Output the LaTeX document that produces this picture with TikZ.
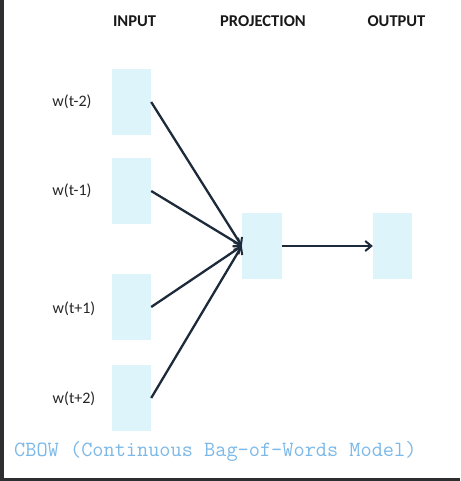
\documentclass[tikz,border=0pt]{standalone}
\usepackage{fontspec}
\setmainfont{Carlito}
\usetikzlibrary{arrows.meta}
\definecolor{boxfill}{HTML}{DDF4FB}
\definecolor{linec}{HTML}{1C2A3A}
\definecolor{captc}{HTML}{7CB9E8}
\definecolor{framec}{HTML}{2E2E30}
\begin{document}
\begin{tikzpicture}[x=1pt,y=-1pt,
  cell/.style={rectangle,fill=boxfill,draw=none,inner sep=0pt,minimum width=39pt,minimum height=66pt},
  lab/.style={font=\fontsize{16}{18}\selectfont,text=black!85,inner sep=0pt},
  head/.style={font=\fontsize{16.5}{19}\bfseries\selectfont,text=black!90,inner sep=0pt},
  arr/.style={draw=linec,line width=2.3pt,-{Straight Barb[length=6pt,width=10pt,line width=2pt]}}]
\useasboundingbox (0,0) rectangle (460,481);
\fill[white] (0,0) rectangle (460,481);
\fill[framec] (0,0) rectangle (3.5,481);
\fill[framec] (0,478) rectangle (460,481);
% headers
\node[head] (hin) at (134.5,21) {INPUT};
\node[head] (hproj) at (263,21) {PROJECTION};
\node[head] (hout) at (396.5,21) {OUTPUT};
% boxes
\node[cell] (i1) at (131.5,102) {};
\node[cell] (i2) at (131.5,191) {};
\node[cell] (i3) at (131.5,307) {};
\node[cell] (i4) at (131.5,398) {};
\node[cell,minimum width=40pt] (p) at (262,246) {};
\node[cell] (o) at (392.5,246) {};
% labels
\node[lab] (l1) at (72,102) {w(t-2)};
\node[lab] (l2) at (72,191) {w(t-1)};
\node[lab] (l3) at (74,309) {w(t+1)};
\node[lab] (l4) at (74,399) {w(t+2)};
% arrows
\draw[arr] (i1.east) -- (p.west);
\draw[arr] (i2.east) -- (p.west);
\draw[arr] (i3.east) -- (p.west);
\draw[arr] (i4.east) -- (p.west);
\draw[arr] (p.east) -- (o.west);
% caption
\node[anchor=west,inner sep=0pt,text=captc,font=\ttfamily\fontsize{21.7}{24}\selectfont] (cap) at (14,451) {CBOW (Continuous Bag-of-Words Model)};
\end{tikzpicture}
\end{document}
